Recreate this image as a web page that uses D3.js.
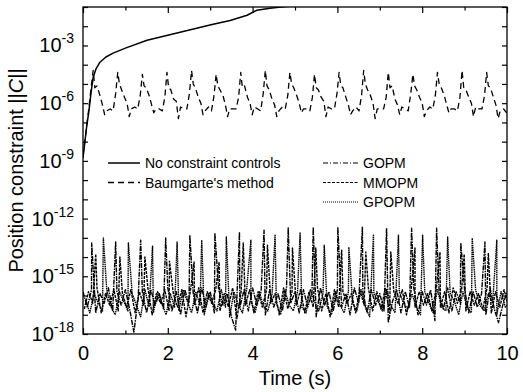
<!DOCTYPE html>
<html>
<head>
<meta charset="utf-8">
<script src="https://cdn.jsdelivr.net/npm/d3@7"></script>
<style>
  body { margin: 0; background: #fff; }
  text { font-family: "Liberation Sans", Arial, sans-serif; fill: #000; }
</style>
</head>
<body>
<script>
// values are log10 of ||C||, time in seconds

// no constraint controls (solid)
var noT = [0, 0.05, 0.09, 0.14, 0.19, 0.24, 0.31, 0.4, 0.54, 0.71, 1.0, 1.51, 2.29, 3.07, 3.47, 3.87, 4.1, 4.41, 4.72, 5.0];
var noV = [-8.85, -7.9, -7.15, -6.4, -5.45, -4.65, -4.2, -3.87, -3.6, -3.4, -3.14, -2.73, -2.31, -1.9, -1.7, -1.43, -1.17, -1.07, -0.99, -0.93];

// Baumgarte's method (dashed)
var baumT = [0, 0.06, 0.12, 0.18,
  0.24, 0.28, 0.33, 0.40, 0.46, 0.51, 0.56, 0.64, 0.71, 0.77,
  0.82, 0.86, 0.91, 0.98, 1.04, 1.09, 1.14, 1.22, 1.29, 1.35,
  1.40, 1.44, 1.49, 1.56, 1.62, 1.67, 1.72, 1.80, 1.87, 1.93,
  1.98, 2.02, 2.07, 2.14, 2.20, 2.25, 2.30, 2.38, 2.45, 2.51,
  2.56, 2.60, 2.65, 2.72, 2.78, 2.83, 2.88, 2.96, 3.03, 3.09,
  3.14, 3.18, 3.23, 3.30, 3.36, 3.41, 3.46, 3.54, 3.61, 3.67,
  3.72, 3.76, 3.81, 3.88, 3.94, 3.99, 4.04, 4.12, 4.19, 4.25,
  4.30, 4.34, 4.39, 4.46, 4.52, 4.57, 4.62, 4.70, 4.77, 4.83,
  4.88, 4.92, 4.97, 5.04, 5.10, 5.15, 5.20, 5.28, 5.35, 5.41,
  5.46, 5.50, 5.55, 5.62, 5.68, 5.73, 5.78, 5.86, 5.93, 5.99,
  6.04, 6.08, 6.13, 6.20, 6.26, 6.31, 6.36, 6.44, 6.51, 6.57,
  6.62, 6.66, 6.71, 6.78, 6.84, 6.89, 6.94, 7.02, 7.09, 7.15,
  7.20, 7.24, 7.29, 7.36, 7.42, 7.47, 7.52, 7.60, 7.67, 7.73,
  7.78, 7.82, 7.87, 7.94, 8.00, 8.05, 8.10, 8.18, 8.25, 8.31,
  8.36, 8.40, 8.45, 8.52, 8.58, 8.63, 8.68, 8.76, 8.83, 8.89,
  8.94, 8.98, 9.03, 9.10, 9.16, 9.21, 9.26, 9.34, 9.41, 9.47,
  9.52, 9.56, 9.61, 9.68, 9.74, 9.79, 9.84, 9.92, 9.99];
var baumV = [-8.7, -7.7, -6.6, -5.4,
  -4.3, -5.2, -5.1, -5.6, -6.1, -6.6, -6.4, -6.3, -6.4, -5.5,
  -4.4, -5.0, -5.3, -5.7, -6.0, -6.7, -6.3, -6.2, -6.3, -5.6,
  -4.5, -5.1, -5.2, -5.6, -6.1, -6.5, -6.3, -6.3, -6.4, -5.7,
  -4.4, -5.2, -5.3, -5.8, -5.9, -6.8, -6.2, -6.3, -6.3, -5.5,
  -4.3, -5.0, -5.2, -5.7, -6.0, -6.6, -6.4, -6.2, -6.4, -5.6,
  -4.5, -5.1, -5.3, -5.6, -6.1, -6.7, -6.3, -6.3, -6.3, -5.7,
  -4.4, -5.2, -5.1, -5.7, -6.0, -6.6, -6.2, -6.3, -6.4, -5.5,
  -4.3, -5.1, -5.3, -5.8, -6.1, -6.7, -6.4, -6.2, -6.3, -5.6,
  -4.4, -5.0, -5.2, -5.6, -6.0, -6.5, -6.3, -6.3, -6.4, -5.7,
  -4.5, -5.2, -5.3, -5.7, -5.9, -6.7, -6.2, -6.3, -6.3, -5.5,
  -4.4, -5.1, -5.2, -5.7, -6.1, -6.6, -6.4, -6.2, -6.4, -5.6,
  -4.3, -5.0, -5.3, -5.6, -6.0, -6.8, -6.3, -6.3, -6.3, -5.7,
  -4.4, -5.2, -5.1, -5.8, -6.1, -6.6, -6.2, -6.3, -6.4, -5.5,
  -4.5, -5.1, -5.3, -5.7, -6.0, -6.7, -6.4, -6.2, -6.3, -5.6,
  -4.4, -5.0, -5.2, -5.6, -6.1, -6.5, -6.3, -6.3, -6.4, -5.7,
  -4.3, -5.2, -5.3, -5.7, -6.0, -6.7, -6.2, -6.3, -6.3, -5.6,
  -4.4, -5.1, -5.2, -5.7, -6.1, -6.8, -6.4, -6.3, -6.5];

// projection methods: noise floor sampled every 0.1 s, plus spikes
var noiseDt = 0.1;
var gopmStart = 0, mmopmStart = 0.03, gpopmStart = 0.06;
var gopmNoise = [
  -15.8, -16.6, -15.7, -16.9, -15.9, -16.4, -15.6, -16.8, -15.8, -16.5,
  -15.7, -16.7, -17.9, -16.2, -15.8, -16.9, -15.7, -16.5, -15.9, -16.7,
  -15.6, -16.8, -15.8, -17.0, -15.7, -16.4, -15.9, -16.9, -15.6, -16.6,
  -15.8, -16.9, -15.7, -16.5, -15.9, -17.1, -17.8, -16.6, -15.7, -16.8,
  -15.6, -16.5, -15.8, -17.0, -15.7, -16.6, -15.9, -16.8, -15.6, -16.4,
  -15.8, -16.9, -15.7, -16.6, -15.9, -17.1, -15.6, -16.5, -15.8, -16.8,
  -15.7, -16.6, -15.9, -17.0, -15.6, -16.4, -15.8, -16.9, -15.7, -16.5,
  -15.9, -16.8, -17.4, -16.3, -15.7, -16.9, -15.8, -16.6, -15.6, -17.0,
  -15.8, -16.5, -15.7, -17.3, -15.9, -16.7, -15.6, -16.8, -15.8, -16.4,
  -15.7, -16.9, -15.8, -16.6, -15.9, -17.0, -15.6, -16.7, -17.4, -16.5,
  -15.8];
var mmopmNoise = [
  -16.7, -15.8, -16.4, -15.6, -16.9, -15.9, -16.5, -15.7, -16.8, -15.9,
  -16.6, -15.7, -16.9, -15.8, -16.5, -15.6, -17.0, -15.9, -16.4, -15.7,
  -16.8, -15.9, -16.6, -15.7, -17.1, -15.8, -16.5, -15.6, -16.9, -15.8,
  -16.4, -15.7, -16.8, -15.9, -16.6, -15.6, -17.2, -15.8, -16.5, -15.7,
  -16.9, -15.8, -16.6, -15.7, -16.4, -15.9, -17.0, -15.6, -16.7, -15.8,
  -16.5, -15.7, -16.9, -15.8, -16.6, -15.6, -16.8, -15.9, -17.1, -15.7,
  -16.6, -15.8, -16.4, -15.9, -16.9, -15.7, -16.5, -15.6, -16.8, -15.8,
  -16.7, -15.6, -16.9, -15.8, -16.4, -15.7, -17.0, -15.9, -16.6, -15.8,
  -16.5, -15.9, -16.8, -15.7, -16.6, -15.8, -16.9, -15.6, -16.4, -15.7,
  -16.8, -15.8, -16.5, -15.9, -16.7, -15.6, -16.9, -15.8, -16.6, -15.7,
  -16.5];
var gpopmNoise = [
  -16.2, -16.9, -15.9, -16.4, -16.8, -15.7, -16.6, -17.0, -15.8, -16.3,
  -16.8, -15.9, -16.5, -17.1, -15.7, -16.6, -16.9, -15.8, -16.4, -17.0,
  -15.9, -16.6, -16.8, -15.7, -16.3, -16.9, -15.8, -16.5, -17.0, -15.9,
  -16.4, -16.8, -15.7, -16.6, -17.1, -15.8, -16.5, -16.9, -15.7, -16.3,
  -16.9, -15.8, -16.6, -16.8, -15.9, -16.4, -17.0, -15.7, -16.5, -16.8,
  -15.8, -16.6, -16.9, -15.7, -16.3, -16.8, -15.9, -16.6, -17.0, -15.8,
  -16.5, -16.9, -15.8, -16.4, -16.8, -15.7, -16.6, -17.1, -15.9, -16.3,
  -16.8, -15.7, -16.5, -16.9, -15.8, -16.4, -16.7, -15.9, -16.6, -17.0,
  -15.8, -16.4, -16.9, -15.7, -16.6, -16.8, -15.9, -16.3, -17.0, -15.8,
  -16.6, -16.9, -15.7, -16.5, -16.8, -15.9, -16.4, -17.0, -15.8, -16.6,
  -16.4];

var gopmSpikeT = [0.205, 0.77, 1.36, 1.95, 2.52, 3.11, 3.69, 4.27, 4.84, 5.43, 6.01, 6.59, 7.16, 7.75, 8.34, 8.91, 9.48];
var gopmSpikeV = [-13.27, -13.22, -13.12, -13.01, -12.86, -12.75, -12.7, -12.6, -12.49, -12.44, -12.44, -12.45, -12.5, -12.5, -12.5, -13.27, -13.22];
var mmopmSpikeT = [0.30, 0.87, 1.46, 2.04, 2.62, 3.21, 3.78, 4.35, 4.94, 5.49, 6.10, 6.67, 7.26, 7.83, 8.42, 8.99, 9.56];
var mmopmSpikeV = [-13.84, -14.0, -14.0, -14.21, -14.26, -14.26, -13.27, -13.38, -13.53, -13.53, -13.64, -13.74, -13.74, -13.53, -13.74, -13.84, -13.79];
var gpopmSpikeT = [0.48, 1.07, 1.64, 2.22, 2.80, 3.38, 3.96, 4.53, 5.12, 5.69, 6.27, 6.85, 7.44, 8.01, 8.60, 9.18, 9.76];
var gpopmSpikeV = [-13.01, -13.27, -13.43, -13.22, -13.12, -12.96, -13.12, -12.86, -12.75, -13.38, -13.48, -12.86, -12.86, -12.86, -12.96, -13.01, -13.12];

var xMajor = [0, 2, 4, 6, 8, 10];
var xMinor = [1, 3, 5, 7, 9];
var yLabelExps = [-18, -15, -12, -9, -6, -3];

function chart() {
  var W = 523, H = 392;
  var margin = {top: 7, right: 16, bottom: 58, left: 83};
  var width = W - margin.left - margin.right,
      height = H - margin.top - margin.bottom;

  var x = d3.scaleLinear().domain([0, 10]).range([0, width]);
  var y = d3.scaleLog().domain([1e-18, 1e-1]).range([height, 0]);

  var svg = d3.select("body").append("svg")
      .attr("width", W).attr("height", H)
    .append("g")
      .attr("transform", "translate(" + margin.left + "," + margin.top + ")");

  svg.append("clipPath").attr("id", "clip")
    .append("rect").attr("width", width).attr("height", height);

  // build point lists
  function pairs(ts, vs) {
    return ts.map(function(t, i) { return {t: t, v: vs[i]}; });
  }
  function noiseSeries(start, noise, st, sv) {
    var pts = noise.map(function(v, i) { return {t: start + i * noiseDt, v: v}; });
    pts = pts.concat(pairs(st, sv));
    pts.sort(function(a, b) { return a.t - b.t; });
    return pts;
  }

  var line = d3.line()
      .x(function(d) { return x(d.t); })
      .y(function(d) { return y(Math.pow(10, d.v)); });

  var plot = svg.append("g").attr("clip-path", "url(#clip)");

  var series = [
    {pts: noiseSeries(gpopmStart, gpopmNoise, gpopmSpikeT, gpopmSpikeV), dash: "1.5,0.7", w: 1.4},
    {pts: noiseSeries(mmopmStart, mmopmNoise, mmopmSpikeT, mmopmSpikeV), dash: "3,1", w: 1.4},
    {pts: noiseSeries(gopmStart, gopmNoise, gopmSpikeT, gopmSpikeV), dash: "5,1,1.5,1", w: 1.4},
    {pts: pairs(baumT, baumV), dash: "6,4", w: 1.3},
    {pts: pairs(noT, noV), dash: null, w: 1.5}
  ];
  series.forEach(function(s) {
    plot.append("path")
      .datum(s.pts)
      .attr("d", line)
      .attr("fill", "none")
      .attr("stroke", "#000")
      .attr("stroke-width", s.w)
      .attr("stroke-linejoin", "round")
      .attr("stroke-dasharray", s.dash);
  });

  // axes (ticks inside, on all four sides)
  var decades = d3.range(-18, 0).map(function(e) { return Math.pow(10, e); });
  function noDomain(g) { g.select(".domain").remove(); }

  svg.append("g").attr("transform", "translate(0," + height + ")")
    .call(d3.axisBottom(x).tickValues(xMajor).tickSize(-6).tickPadding(12).tickFormat(d3.format("d")))
    .call(noDomain)
    .call(function(g) { g.selectAll("text").style("font-size", "20px").attr("font-family", null); });
  svg.append("g").attr("transform", "translate(0," + height + ")")
    .call(d3.axisBottom(x).tickValues(xMinor).tickSize(-3.5).tickFormat(""))
    .call(noDomain);
  svg.append("g")
    .call(d3.axisTop(x).tickValues(xMajor).tickSize(-6).tickFormat(""))
    .call(noDomain);
  svg.append("g")
    .call(d3.axisTop(x).tickValues(xMinor).tickSize(-3.5).tickFormat(""))
    .call(noDomain);
  svg.append("g")
    .call(d3.axisLeft(y).tickValues(decades).tickSize(-5).tickFormat(""))
    .call(noDomain);
  svg.append("g").attr("transform", "translate(" + width + ",0)")
    .call(d3.axisRight(y).tickValues(decades).tickSize(-5).tickFormat(""))
    .call(noDomain);
  svg.selectAll(".tick line").attr("stroke", "#000").attr("stroke-width", 1.2);

  // y tick labels 10^n
  yLabelExps.forEach(function(e) {
    var t = svg.append("text")
      .attr("x", -9)
      .attr("y", y(Math.pow(10, e)) + 7)
      .attr("text-anchor", "end")
      .style("font-size", "20px");
    t.append("tspan").text("10");
    t.append("tspan").attr("dy", -9).style("font-size", "14px").text(String(e));
  });

  // frame
  svg.append("rect")
    .attr("width", width).attr("height", height)
    .attr("fill", "none").attr("stroke", "#000").attr("stroke-width", 1.3);

  // axis titles
  svg.append("text")
    .attr("x", width / 2).attr("y", height + 51)
    .attr("text-anchor", "middle")
    .style("font-size", "20px")
    .text("Time (s)");

  var yl = svg.append("text")
    .attr("transform", "translate(-60," + (height / 2) + ") rotate(-90)")
    .attr("text-anchor", "middle")
    .style("font-size", "20px");
  yl.append("tspan").text("Position constraint  ||");
  yl.append("tspan").style("font-style", "italic").text("C");
  yl.append("tspan").text("||");

  // legend
  var legLeft = [
    {name: "No constraint controls", dash: null, w: 1.5},
    {name: "Baumgarte's method", dash: "6,4", w: 1.3}
  ];
  var legRight = [
    {name: "GOPM", dash: "5,2,1,2", w: 1},
    {name: "MMOPM", dash: "3,1.5", w: 1},
    {name: "GPOPM", dash: "1,1", w: 1}
  ];
  function legend(items, x0, x1) {
    items.forEach(function(d, i) {
      var yy = 156 + i * 19.5;
      svg.append("line")
        .attr("x1", x0).attr("x2", x1).attr("y1", yy).attr("y2", yy)
        .attr("stroke", "#000").attr("stroke-width", d.w)
        .attr("stroke-dasharray", d.dash);
      svg.append("text")
        .attr("x", x1 + 5).attr("y", yy + 5)
        .style("font-size", "14px")
        .text(d.name);
    });
  }
  legend(legLeft, 25, 57);
  legend(legRight, 240, 275);
}

window.onload = chart();
</script>
</body>
</html>
